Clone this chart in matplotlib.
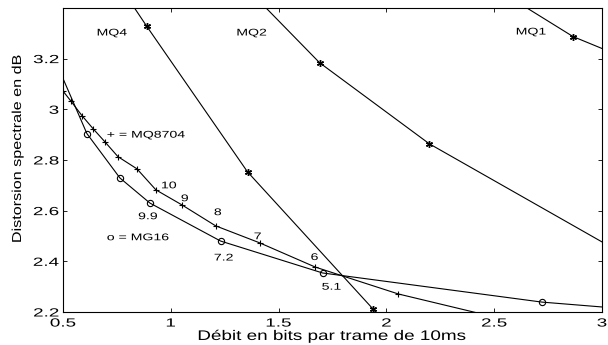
import matplotlib
matplotlib.use("Agg")
import matplotlib.pyplot as plt
from matplotlib.patheffects import AbstractPathEffect
from matplotlib.transforms import Affine2D

plt.rcParams["font.family"] = ["Liberation Sans", "DejaVu Sans"]

# courbes MQ (asterisques); les points hors cadre prolongent le trace
mq4_x = [0.80, 0.889, 1.356, 1.94, 1.97]
mq4_y = [3.44, 3.327, 2.753, 2.21, 2.18]
mq2_x = [1.35, 1.690, 2.199, 3.2]
mq2_y = [3.48, 3.184, 2.864, 2.38]
mq1_x = [2.50, 2.866, 3.2]
mq1_y = [3.48, 3.287, 3.17]

# MQ8704 (+)
mq8704_x = [0.47, 0.500, 0.537, 0.588, 0.639, 0.694, 0.755, 0.843, 0.931,
            1.051, 1.208, 1.412, 1.671, 2.056, 2.60]
mq8704_y = [3.18, 3.072, 3.032, 2.975, 2.924, 2.872, 2.813, 2.765, 2.682,
            2.623, 2.540, 2.473, 2.377, 2.271, 2.16]

# MG16 (o)
mg16_x = [0.46, 0.611, 0.764, 0.903, 1.231, 1.704, 2.722, 3.2]
mg16_y = [3.20, 2.904, 2.729, 2.630, 2.480, 2.354, 2.239, 2.206]

mq_labels = [("MQ4", 0.727, 3.303), ("MQ2", 1.375, 3.303), ("MQ1", 2.671, 3.307)]
plus_labels = [("10", 0.991, 2.700), ("9", 1.065, 2.649), ("8", 1.218, 2.594),
               ("7", 1.403, 2.499), ("6", 1.667, 2.417)]
circ_labels = [("9.9", 0.894, 2.578), ("7.2", 1.245, 2.415), ("5.1", 1.745, 2.300)]

xticks = [0.5, 1, 1.5, 2, 2.5, 3]
xticklabels = ["0.5", "1", "1.5", "2", "2.5", "3"]
yticks = [2.2, 2.4, 2.6, 2.8, 3.0, 3.2]
yticklabels = ["2.2", "2.4", "2.6", "2.8", "3", "3.2"]


class Stretch(AbstractPathEffect):
    """elargit le texte le long de sa ligne (police large de l'original)"""

    def __init__(self, sx, anchor="center"):
        super().__init__()
        self.sx = sx
        self.anchor = anchor

    def draw_path(self, renderer, gc, tpath, affine, rgbFace=None):
        ext = tpath.get_extents()
        a = {"left": ext.x0, "right": ext.x1}.get(self.anchor, (ext.x0 + ext.x1) / 2)
        pre = Affine2D().translate(-a, 0).scale(self.sx, 1).translate(a, 0)
        renderer.draw_path(gc, tpath, pre + affine, rgbFace)


fig = plt.figure(figsize=(6.08, 3.45), dpi=100)
ax = fig.add_axes([0.1036, 0.0957, 0.8864, 0.8813])

star = (6, 2, 0)
for xs, ys in [(mq4_x, mq4_y), (mq2_x, mq2_y), (mq1_x, mq1_y)]:
    ax.plot(xs, ys, color="black", lw=0.8, marker=star, ms=5, mew=1.0)

ax.plot(mq8704_x, mq8704_y, color="black", lw=0.8, marker="+", ms=5, mew=0.8)
ax.plot(mg16_x, mg16_y, color="black", lw=0.8, marker="o", ms=4.5, mew=0.8,
        mfc="none")

ann = dict(fontsize=7, path_effects=[Stretch(1.45)])
for txt, x, y in mq_labels + plus_labels + circ_labels:
    ax.text(x, y, txt, ha="center", va="center", **ann)
ann_left = dict(fontsize=7, path_effects=[Stretch(1.45, "left")])
ax.text(0.704, 2.900, "+ = MQ8704", ha="left", va="center", **ann_left)
ax.text(0.704, 2.495, "o = MG16", ha="left", va="center", **ann_left)

ax.set_xlim(0.5, 3.0)
ax.set_ylim(2.2, 3.4)
ax.set_xticks(xticks)
ax.set_xticklabels(xticklabels)
ax.set_yticks(yticks)
ax.set_yticklabels(yticklabels)
ax.tick_params(direction="in", length=3, width=0.6, top=True, right=True,
               labelsize=8.5)
ax.tick_params(axis="x", pad=4)
ax.tick_params(axis="y", pad=3)
for lab in ax.get_xticklabels():
    lab.set_path_effects([Stretch(1.6, "center")])
for lab in ax.get_yticklabels():
    lab.set_path_effects([Stretch(1.6, "right")])
for s in ax.spines.values():
    s.set_linewidth(0.8)

ax.set_xlabel("Débit en bits par trame de 10ms", fontsize=10,
              path_effects=[Stretch(1.36)])
ax.xaxis.label.set_va("baseline")
ax.xaxis.set_label_coords(0.499, -0.092)
ax.set_ylabel("Distorsion spectrale en dB", fontsize=9.3,
              path_effects=[Stretch(1.25)])
ax.yaxis.set_label_coords(-0.0724, 0.536)

fig.savefig("out.png", dpi=100)
